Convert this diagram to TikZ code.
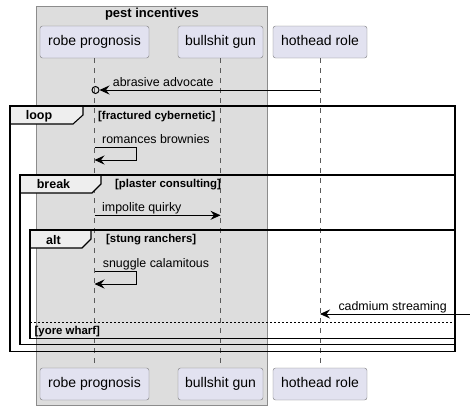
\documentclass[tikz,border=0pt]{standalone}
\usepackage{fontspec}
\setmainfont{Liberation Sans}
\usetikzlibrary{arrows.meta}

\definecolor{partfill}{RGB}{226,226,240}
\definecolor{partline}{RGB}{120,120,120}
\definecolor{boxfill}{RGB}{221,221,221}
\definecolor{boxline}{RGB}{140,140,140}
\definecolor{tabfill}{RGB}{238,238,238}
\definecolor{lifegray}{RGB}{90,90,90}

\tikzstyle{part} = [draw=partline,fill=partfill,rounded corners=2.5pt,minimum height=32pt,inner sep=0pt,font=\fontsize{14}{16}\selectfont,text height=10pt,text depth=3pt]
\tikzstyle{life} = [draw=lifegray,line width=0.7pt,dash pattern=on 5pt off 5pt]
\tikzstyle{msg} = [-{Stealth[length=10pt,width=9pt,inset=3.5pt]},line width=0.8pt]
\tikzstyle{lbl} = [anchor=base west,inner sep=0pt,font=\fontsize{12.4}{14}\selectfont]
\tikzstyle{frame} = [draw,line width=1.5pt]
\tikzstyle{tab} = [draw,fill=tabfill,line width=1.1pt]
\tikzstyle{kind} = [anchor=base,inner sep=0pt,font=\bfseries\fontsize{12.5}{14}\selectfont]
\tikzstyle{guard} = [anchor=base west,inner sep=0pt,font=\bfseries\fontsize{11.4}{13}\selectfont]

\begin{document}
\begin{tikzpicture}[x=1pt,y=-1pt]
	\useasboundingbox (0,0) rectangle (470,410);

	% group box
	\draw[fill=boxfill,draw=boxline] (36,6) rectangle (267,405);
	\node (grp) [anchor=base,inner sep=0pt,font=\bfseries\fontsize{13}{15}\selectfont] at (152,17.5) {pest incentives};

	% participants
	\node (robe_t) [part,minimum width=109pt] at (94.5,42) {robe prognosis};
	\node (gun_t) [part,minimum width=85pt] at (220.5,42) {bullshit gun};
	\node (role_t) [part,minimum width=94pt] at (320,42) {hothead role};
	\node (robe_b) [part,minimum width=109pt] at (94.5,384) {robe prognosis};
	\node (gun_b) [part,minimum width=85pt] at (220.5,384) {bullshit gun};
	\node (role_b) [part,minimum width=94pt] at (320,384) {hothead role};

	\path[life]
		(robe_t) edge (robe_b)
		(gun_t) edge (gun_b)
		(role_t) edge (role_b);

	% frames
	\draw[tab] (10,106) -- (83,106) -- (83,115) -- (73,124) -- (10,124) -- cycle;
	\draw[frame] (10,106) rectangle (455,351.5);
	\node (loop) [kind] at (39,119) {loop};
	\node (g_loop) [guard] at (98,119) {[fractured cybernetic]};

	\draw[tab] (20,175) -- (101,175) -- (101,184) -- (92,193) -- (20,193) -- cycle;
	\draw[frame] (20,175) rectangle (455,344.5);
	\node (break) [kind] at (53.5,188.5) {break};
	\node (g_break) [guard] at (115,187) {[plaster consulting]};

	\draw[tab] (30,230) -- (91,230) -- (91,239) -- (82,248) -- (30,248) -- cycle;
	\draw[frame] (30,230) rectangle (455,338.5);
	\node (alt) [kind] at (53.5,244) {alt};
	\node (g_alt) [guard] at (106,242.5) {[stung ranchers]};

	\draw[dash pattern=on 2pt off 2pt,line width=0.7pt] (30,322.7) -- (455,322.7);
	\node (g_else) [guard] at (34.5,334) {[yore wharf]};

	% messages
	\node (o1) [circle,draw,line width=1pt,minimum size=7pt,inner sep=0pt] at (95.5,90) {};
	\draw[msg] (role_t |- o1) -- (o1);
	\node (m1) [lbl] at (112.7,86) {abrasive advocate};

	\coordinate (s1a) at (136.5,147.3);
	\coordinate (s1b) at (136.5,160);
	\draw[msg] (robe_t |- s1a) -- (s1a) -- (s1b) -- (robe_t |- s1b);
	\node (m2) [lbl] at (102,143) {romances brownies};

	\coordinate (i1) at (0,215.3);
	\draw[msg] (robe_t |- i1) -- (gun_t |- i1);
	\node (m3) [lbl] at (102,211) {impolite quirky};

	\coordinate (s2a) at (136.5,271.7);
	\coordinate (s2b) at (136.5,284);
	\draw[msg] (robe_t |- s2a) -- (s2a) -- (s2b) -- (robe_t |- s2b);
	\node (m4) [lbl] at (102.7,267.5) {snuggle calamitous};

	\coordinate (edge_in) at (470,314);
	\draw[msg] (edge_in) -- (role_t |- edge_in);
	\node (m5) [lbl] at (338.3,310) {cadmium streaming};

\end{tikzpicture}
\end{document}
